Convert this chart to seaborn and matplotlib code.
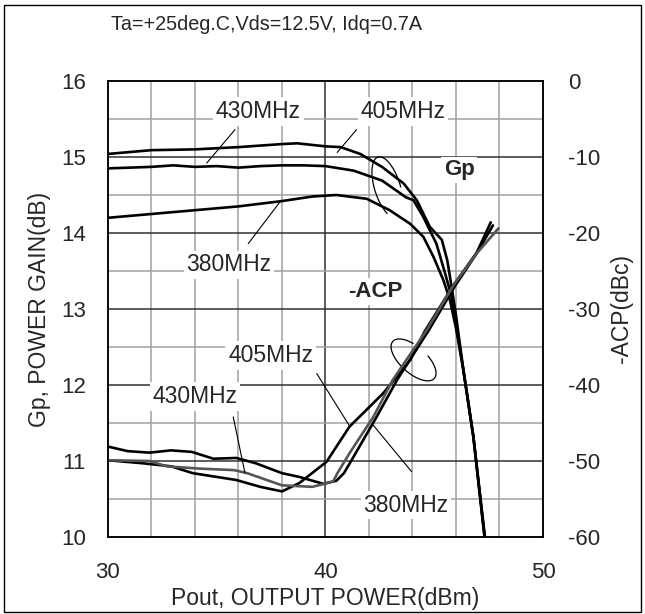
import numpy as np
import pandas as pd
import seaborn as sns
import matplotlib.pyplot as plt
from matplotlib.patches import Arc, Rectangle

# Gp curves (left axis, dB) vs Pout (dBm)
gp405_x = [30, 32, 34, 36, 38, 38.7, 40, 40.7, 41.6, 42.6, 43.6, 44.2, 44.8, 45.35, 45.6, 45.8, 46.0, 46.34, 46.8, 47.35]
gp405_y = [15.04, 15.09, 15.10, 15.13, 15.17, 15.18, 15.14, 15.13, 15.04, 14.87, 14.65, 14.43, 14.08, 13.91, 13.64, 13.29, 12.92, 12.2, 11.32, 9.96]

gp430_x = [30, 31, 32, 33, 34, 35, 36, 37, 38, 39, 40, 41.3, 42.6, 43.7, 44.05, 44.5, 45.1, 45.5, 45.8, 46.0, 46.34, 46.8, 47.33]
gp430_y = [14.85, 14.86, 14.87, 14.89, 14.87, 14.88, 14.86, 14.88, 14.89, 14.89, 14.88, 14.82, 14.69, 14.47, 14.43, 14.21, 13.86, 13.47, 13.16, 12.8, 12.2, 11.32, 9.96]

gp380_x = [30, 32, 34, 36, 38, 39.4, 40.5, 41.9, 42.95, 43.9, 44.5, 44.96, 45.42, 45.72, 46.0, 46.34, 46.8, 47.33]
gp380_y = [14.20, 14.25, 14.30, 14.35, 14.42, 14.48, 14.50, 14.45, 14.30, 14.12, 13.95, 13.69, 13.38, 13.12, 12.75, 12.2, 11.32, 9.96]

# -ACP curves (right axis, dBc)
acp405_x = [30, 31.6, 32.9, 33.9, 35.9, 37.0, 38.0, 38.8, 40.05, 41.1, 42.65, 43.9, 44.55, 45.9, 46.95, 47.6]
acp405_y = [-49.9, -50.3, -50.7, -51.6, -52.5, -53.4, -54.0, -52.9, -50.1, -45.5, -41.1, -36.7, -33.0, -26.8, -22.6, -18.6]

acp380_x = [30, 30.9, 31.9, 32.9, 33.85, 34.85, 35.9, 36.8, 38.0, 38.8, 39.9, 40.5, 40.85, 41.3, 42.35, 43.3, 44.75, 45.95, 46.95, 47.7]
acp380_y = [-48.1, -48.7, -48.9, -48.6, -48.8, -49.7, -49.6, -50.3, -51.6, -52.1, -53.0, -52.6, -51.6, -49.4, -44.2, -39.3, -32.8, -27.0, -22.7, -19.0]

acp430_x = [30, 31.9, 32.7, 34.2, 35.8, 36.4, 38.0, 39.4, 40.35, 40.55, 41.1, 42.2, 43.1, 44.65, 45.9, 46.95, 47.95]
acp430_y = [-49.9, -50.0, -50.7, -51.0, -51.2, -51.6, -53.2, -53.4, -52.7, -51.6, -49.0, -44.2, -39.3, -32.8, -26.8, -22.7, -19.4]

x_ticks = [30, 40, 50]
gp_ticks = [10, 11, 12, 13, 14, 15, 16]
acp_ticks = [-60, -50, -40, -30, -20, -10, 0]

sns.set_style("white")
plt.rcParams['font.family'] = ['Liberation Sans', 'DejaVu Sans']
plt.rcParams['axes.unicode_minus'] = False

fig = plt.figure(figsize=(6.45, 6.14), dpi=100)
ax = fig.add_axes([0.1674, 0.1254, 0.6744, 0.7427])
ax2 = ax.twinx()

ax.set_xlim(30, 50)
ax.set_ylim(10, 16)
ax2.set_ylim(-60, 0)
ax.set_xticks(x_ticks)
ax.set_yticks(gp_ticks)
ax2.set_yticks(acp_ticks)

# grid: gray every 2 dBm / 0.5 dB, dark at the major ticks
for gx in np.arange(32, 50, 2):
    ax.axvline(gx, color='#303030' if gx % 10 == 0 else '#a0a0a0', lw=1.1, zorder=1)
for gy in np.arange(10.5, 16, 0.5):
    ax.axhline(gy, color='#303030' if gy % 1 == 0 else '#a0a0a0', lw=1.1, zorder=1)

for a in (ax, ax2):
    for s in a.spines.values():
        s.set_color('black')
        s.set_linewidth(1.1)
        s.set_zorder(2)
ax.tick_params(axis='both', length=0, labelsize=16)
ax.tick_params(axis='y', pad=16)
ax.tick_params(axis='x', pad=18)
ax2.tick_params(axis='y', length=0, labelsize=16, pad=18)

# Gp curves
for xs, ys in [(gp405_x, gp405_y), (gp430_x, gp430_y), (gp380_x, gp380_y)]:
    sns.lineplot(x=xs, y=ys, ax=ax, color='black', lw=1.9, sort=False, estimator=None, legend=False, zorder=3)

# -ACP curves
sns.lineplot(x=acp405_x, y=acp405_y, ax=ax2, color='black', lw=1.9, sort=False, estimator=None, legend=False)
sns.lineplot(x=acp380_x, y=acp380_y, ax=ax2, color='black', lw=1.9, sort=False, estimator=None, legend=False)
sns.lineplot(x=acp430_x, y=acp430_y, ax=ax2, color='#555555', lw=1.9, sort=False, estimator=None, legend=False)
ax2.set_xlim(30, 50)

ax.set_xlabel('Pout, OUTPUT POWER(dBm)', fontsize=16.5)
ax.set_ylabel('Gp, POWER GAIN(dB)', fontsize=16.5)
ax2.set_ylabel('-ACP(dBc)', fontsize=16.5)
ax.xaxis.set_label_coords(0.5, -0.11)
ax.yaxis.set_label_coords(-0.13, 0.5)
ax2.yaxis.set_label_coords(1.155, 0.5)

box = dict(facecolor='white', edgecolor='none', pad=2)
T = ax.transData

# leader lines (left-axis data coords, converted to dBc for ax2)
leaders = [((35.84, 15.36), (34.54, 14.92)),
           ((41.43, 15.36), (40.54, 15.06)),
           ((36.45, 13.86), (37.91, 14.41)),
           ((35.76, 11.58), (36.30, 10.84)),
           ((39.6, 12.15), (41.13, 11.45)),
           ((43.96, 10.86), (42.2, 11.47))]
for p0, p1 in leaders:
    ax2.plot([p0[0], p1[0]], [(p0[1] - 16) * 10, (p1[1] - 16) * 10], color='black', lw=0.8)

labels = [(36.92, 15.60, '430MHz'), (43.56, 15.60, '405MHz'), (35.56, 13.58, '380MHz'),
          (37.48, 12.39, '405MHz'), (34.0, 11.85, '430MHz'), (43.70, 10.42, '380MHz')]
for lx, ly, txt in labels:
    ax2.text(lx, ly, txt, transform=T, ha='center', va='center', fontsize=16.5, bbox=box, zorder=5)
ax2.text(46.14, 14.83, 'Gp', transform=T, ha='center', va='center', fontsize=16, fontweight='bold', bbox=box, zorder=5)
ax2.text(42.28, 13.23, '-ACP', transform=T, ha='center', va='center', fontsize=16, fontweight='bold', bbox=box, zorder=5)

# grouping loops
ax.add_patch(Arc((42.85, 14.6), 1.5, 0.66, angle=-20, theta1=20, theta2=290, color='black', lw=0.9, zorder=4))
ax.add_patch(Arc((44.05, 12.33), 2.1, 0.42, angle=-10, theta1=100, theta2=15, color='black', lw=0.9, zorder=4))

fig.text(111 / 645, 1 - 25 / 614, 'Ta=+25deg.C,Vds=12.5V, Idq=0.7A', ha='left', va='center', fontsize=14.2)
fig.patches.append(Rectangle((0.006, 0.004), 0.988, 0.988, transform=fig.transFigure, fill=False,
                             edgecolor='black', lw=1.0))

fig.savefig('out.png', dpi=100)
